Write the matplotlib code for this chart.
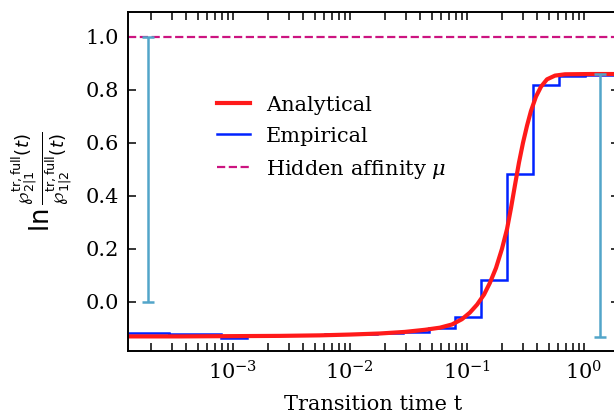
import numpy as np
import matplotlib
matplotlib.use("Agg")
import matplotlib.pyplot as plt
from matplotlib.ticker import LogLocator, NullFormatter

plt.rcParams['font.family'] = 'serif'
plt.rcParams['font.serif'] = ['DejaVu Serif']
plt.rcParams['mathtext.fontset'] = 'dejavuserif'

# analytical curve
t_analytical = [1.27e-4, 3.52e-4, 9.42e-4, 2.52e-3, 5.54e-3, 1.0e-2, 1.80e-2,
                2.95e-2, 4.38e-2, 5.88e-2, 7.44e-2, 9.06e-2, 0.106, 0.122,
                0.140, 0.157, 0.177, 0.199, 0.220, 0.238, 0.257, 0.278, 0.301,
                0.326, 0.352, 0.389, 0.429, 0.483, 0.565, 0.688, 1.13, 2.03]
v_analytical = [-0.130, -0.130, -0.129, -0.128, -0.126, -0.123, -0.119,
                -0.113, -0.105, -0.097, -0.085, -0.065, -0.040, -0.010,
                0.028, 0.072, 0.128, 0.200, 0.275, 0.355, 0.440, 0.525, 0.600,
                0.665, 0.720, 0.775, 0.812, 0.840, 0.854, 0.859, 0.860, 0.860]

# empirical histogram (bin edges and levels)
t_edges = [1.27e-4, 2.86e-4, 7.96e-4, 1.33e-3, 2.21e-3, 6.15e-3, 1.71e-2,
           2.85e-2, 4.75e-2, 7.92e-2, 0.132, 0.220, 0.367, 0.612, 1.02, 2.03]
v_empirical = [-0.118, -0.121, -0.137, -0.124, -0.126, -0.122, -0.117,
               -0.112, -0.097, -0.057, 0.083, 0.483, 0.819, 0.853, 0.855]

mu = 1.0

# vertical range markers
bar_t = [1.9e-4, 1.37]
bar_lo = [0.0, -0.132]
bar_hi = [1.0, 0.860]

fig = plt.figure(figsize=(6.14, 4.17), dpi=100)
ax = fig.add_axes([0.2085, 0.1583, 0.8, 0.8129])

ax.plot(t_analytical, v_analytical, color='#ff1a1a', lw=3, label='Analytical')
ax.stairs(v_empirical, t_edges, baseline=None, color='#0022ff', lw=1.8,
          label='Empirical')
ax.axhline(mu, color='#cc1480', ls='--', lw=1.6, label=r'Hidden affinity $\mu$')

mid = [(a + b) / 2 for a, b in zip(bar_lo, bar_hi)]
half = [(b - a) / 2 for a, b in zip(bar_lo, bar_hi)]
ax.errorbar(bar_t, mid, yerr=half, fmt='none', ecolor='#52a5c9',
            elinewidth=1.8, capsize=4.5, capthick=1.8)

ax.set_xscale('log')
ax.set_xlim(1.27e-4, 2.0)
ax.set_ylim(-0.185, 1.094)
ax.set_yticks([0.0, 0.2, 0.4, 0.6, 0.8, 1.0])
ax.set_yticklabels(['0.0', '0.2', '0.4', '0.6', '0.8', '1.0'])
ax.xaxis.set_minor_locator(LogLocator(base=10, subs=np.arange(2, 10), numticks=20))
ax.xaxis.set_minor_formatter(NullFormatter())

ax.tick_params(which='both', direction='in', top=True, right=True,
               length=6, width=1.1, labelsize=15, pad=6.5)
for s in ax.spines.values():
    s.set_linewidth(1.4)

ax.set_xlabel('Transition time t', fontsize=15, labelpad=8.5)
ax.set_ylabel(r'$\ln\frac{\wp^{\rm tr,full}_{2|1}(t)}{\wp^{\rm tr,full}_{1|2}(t)}$',
              fontsize=18.5, math_fontfamily='dejavusans', labelpad=8)

ax.legend(loc='upper left', bbox_to_anchor=(0.164, 0.778), borderaxespad=0,
          frameon=False, fontsize=15, handlelength=1.6, handletextpad=0.75,
          labelspacing=0.58)

fig.savefig('out.png', dpi=100)
